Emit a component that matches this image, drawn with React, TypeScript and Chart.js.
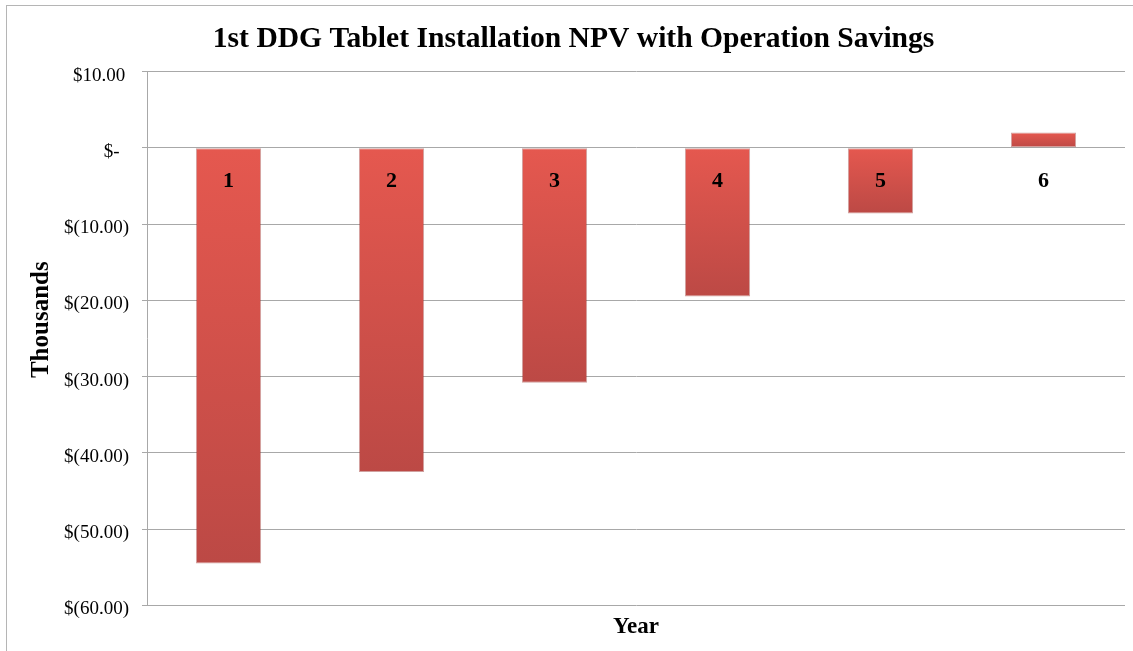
import React, { useEffect, useRef } from "react";
import { Chart, registerables } from "chart.js";

Chart.register(...registerables);

const chartTitle = "   1st DDG Tablet Installation NPV with Operation Savings";
const years = ["1", "2", "3", "4", "5", "6"];
const npvThousands = [-54.5, -42.5, -30.8, -19.5, -8.6, 2.0];
const yMin = -60;
const yMax = 10;
const yStep = 10;

function formatAccounting(v: number): string {
  if (v === 0) return "$-  ";
  if (v < 0) return "$(" + Math.abs(v).toFixed(2) + ")";
  return "$" + v.toFixed(2) + "\u2009";
}

export default function App() {
  const ref = useRef<HTMLCanvasElement | null>(null);

  useEffect(() => {
    document.body.style.margin = "0";
    const canvas = ref.current;
    if (!canvas) return;
    const serif = "'Liberation Serif', 'DejaVu Serif', serif";
    const chart = new Chart(canvas, {
      type: "bar",
      data: {
        labels: years,
        datasets: [
          {
            label: "NPV",
            data: npvThousands,
            backgroundColor: (ctx: any) => {
              const c = ctx.chart;
              const ys = c.scales && c.scales.y;
              if (!c.chartArea || !ys || typeof ctx.raw !== "number") return "#D2524C";
              const p0 = ys.getPixelForValue(0);
              const p1 = ys.getPixelForValue(ctx.raw);
              const top = Math.min(p0, p1);
              const bot = Math.max(p0, p1);
              const g = c.ctx.createLinearGradient(0, top, 0, bot + 0.001);
              g.addColorStop(0, "#E5584F");
              g.addColorStop(1, "#BC4945");
              return g;
            },
            borderColor: "rgba(150, 45, 40, 0.45)",
            borderWidth: 1,
            borderSkipped: false,
            barPercentage: 0.4,
            categoryPercentage: 1.0,
          },
        ],
      },
      options: {
        animation: false,
        responsive: true,
        maintainAspectRatio: false,
        layout: { padding: { left: 0, right: 8, top: 0, bottom: 0 } },
        plugins: {
          legend: { display: false },
          tooltip: { enabled: false },
          title: {
            display: true,
            text: chartTitle,
            color: "#000000",
            font: { family: serif, size: 29.6, weight: "bold", lineHeight: 1.2 },
            padding: { top: 22, bottom: 14 },
          },
          subtitle: {
            display: true,
            text: "Year",
            position: "bottom",
            fullSize: false,
            color: "#000000",
            font: { family: serif, size: 23, weight: "bold", lineHeight: 1.2 },
            padding: { top: 8, bottom: 10 },
          },
        },
        scales: {
          x: {
            type: "category",
            position: { y: 0 } as any,
            afterFit: (scale: any) => {
              scale.height = 0;
            },
            grid: { display: false, drawTicks: false },
            border: { display: false },
            ticks: {
              z: 1,
              padding: 20,
              color: "#000000",
              font: { family: serif, size: 22, weight: "bold", lineHeight: 1.2 },
            },
          },
          y: {
            type: "linear",
            min: yMin,
            max: yMax,
            afterFit: (scale: any) => {
              scale.width = 147;
            },
            ticks: {
              stepSize: yStep,
              padding: 13,
              labelOffset: 4,
              color: "#000000",
              font: { family: serif, size: 19 },
              callback: (v: any) => formatAccounting(Number(v)),
            },
            grid: { color: "#A8A8A8", lineWidth: 1, drawTicks: true, tickLength: 5 },
            border: { display: true, color: "#A8A8A8" },
            title: {
              display: true,
              text: "      Thousands",
              color: "#000000",
              font: { family: serif, size: 25, weight: "bold", lineHeight: 1.2 },
              padding: { top: 27, bottom: 0 },
            },
          },
        },
      },
    } as any);
    return () => chart.destroy();
  }, []);

  return (
    <div style={{ position: "fixed", left: 0, top: 0, width: 1133, height: 651, background: "#ffffff" }}>
      <div
        style={{
          position: "absolute",
          left: 6,
          top: 5,
          right: 0,
          bottom: 0,
          borderLeft: "1px solid #B5B5B5",
          borderTop: "1px solid #B5B5B5",
        }}
      />
      <div style={{ position: "absolute", left: 0, top: 0, width: 1133, height: 651 }}>
        <canvas ref={ref} />
      </div>
    </div>
  );
}
